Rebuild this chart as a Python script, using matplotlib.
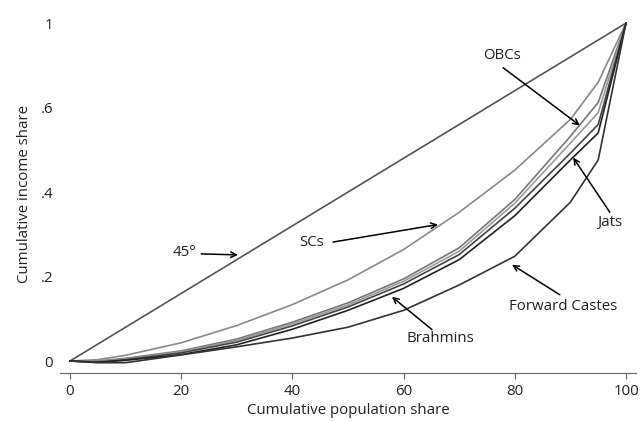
import numpy as np
import matplotlib
matplotlib.use("Agg")
import matplotlib.pyplot as plt

plt.rcParams['font.family'] = ['Open Sans', 'DejaVu Sans']

# cumulative population share (%)
pop = [0, 5, 10, 20, 30, 40, 50, 60, 70, 80, 90, 95, 100]

# cumulative income share
equal = [0, 0.05, 0.10, 0.20, 0.30, 0.40, 0.50, 0.60, 0.70, 0.80, 0.90, 0.95, 1]
scs = [0, 0.004, 0.017, 0.054, 0.105, 0.167, 0.24, 0.33, 0.44, 0.565, 0.715, 0.825, 1]
obcs = [0, 0.000, 0.008, 0.030, 0.065, 0.115, 0.172, 0.243, 0.335, 0.478, 0.665, 0.765, 1]
others = [0, -0.002, 0.006, 0.027, 0.061, 0.110, 0.166, 0.236, 0.325, 0.467, 0.645, 0.735, 1]
jats = [0, -0.003, 0.004, 0.024, 0.056, 0.104, 0.160, 0.228, 0.315, 0.452, 0.615, 0.700, 1]
brahmins = [0, -0.004, 0.002, 0.019, 0.048, 0.094, 0.150, 0.215, 0.300, 0.430, 0.595, 0.675, 1]
forward = [0, -0.005, -0.005, 0.018, 0.042, 0.068, 0.100, 0.150, 0.225, 0.310, 0.470, 0.595, 1]

yticks = [0, 0.25, 0.5, 0.75, 1]
ytick_labels = ['0', '.2', '.4', '.6', '1']
xticks = [0, 20, 40, 60, 80, 100]

fig = plt.figure(figsize=(6.4, 4.21), dpi=100)
ax = fig.add_axes([60/640, 48/421, 576/640, 358/421])

ax.plot(pop, equal, color='#555555', lw=1.2)
ax.plot(pop, scs, color='#8a8a8a', lw=1.2)
ax.plot(pop, obcs, color='#777777', lw=1.2)
ax.plot(pop, others, color='#9a9a9a', lw=1.2)
ax.plot(pop, jats, color='#444444', lw=1.2)
ax.plot(pop, brahmins, color='#222222', lw=1.2)
ax.plot(pop, forward, color='#333333', lw=1.2)

arrow = dict(arrowstyle='->', color='black', lw=1.1, shrinkA=0, shrinkB=0)
fs = 10.8
ax.annotate('', xy=(30.2, 0.314), xytext=(23.6, 0.317), arrowprops=arrow)
ax.text(20.6, 0.322, '45°', ha='center', va='center', fontsize=fs, color='#222222')
ax.annotate('', xy=(66.2, 0.404), xytext=(47.3, 0.352), arrowprops=arrow)
ax.text(43.5, 0.352, 'SCs', ha='center', va='center', fontsize=fs, color='#222222')
ax.annotate('', xy=(91.7, 0.697), xytext=(77.9, 0.868), arrowprops=arrow)
ax.text(77.7, 0.905, 'OBCs', ha='center', va='center', fontsize=fs, color='#222222')
ax.annotate('', xy=(90.5, 0.602), xytext=(97.1, 0.44), arrowprops=arrow)
ax.text(97.1, 0.41, 'Jats', ha='center', va='center', fontsize=fs, color='#222222')
ax.annotate('', xy=(57.9, 0.19), xytext=(65.1, 0.093), arrowprops=arrow)
ax.text(66.7, 0.066, 'Brahmins', ha='center', va='center', fontsize=fs, color='#222222')
ax.annotate('', xy=(79.5, 0.285), xytext=(88.1, 0.196), arrowprops=arrow)
ax.text(88.7, 0.16, 'Forward Castes', ha='center', va='center', fontsize=fs, color='#222222')

ax.set_xlim(-1.8, 101.8)
ax.set_ylim(-0.0355, 1.024)
ax.set_xticks(xticks)
ax.set_yticks(yticks)
ax.set_yticklabels(ytick_labels)

for s in ['top', 'right', 'left']:
    ax.spines[s].set_visible(False)
ax.spines['bottom'].set_color('#666666')
ax.tick_params(axis='x', direction='out', length=4.5, color='#666666', pad=3.5, labelsize=fs, labelcolor='#222222')
ax.tick_params(axis='y', length=0, pad=5, labelsize=fs, labelcolor='#222222')

ax.set_xlabel('Cumulative population share', fontsize=fs, color='#222222', labelpad=3)
ax.set_ylabel('Cumulative income share', fontsize=fs, color='#222222', labelpad=6)

fig.savefig('out.png', dpi=100)
